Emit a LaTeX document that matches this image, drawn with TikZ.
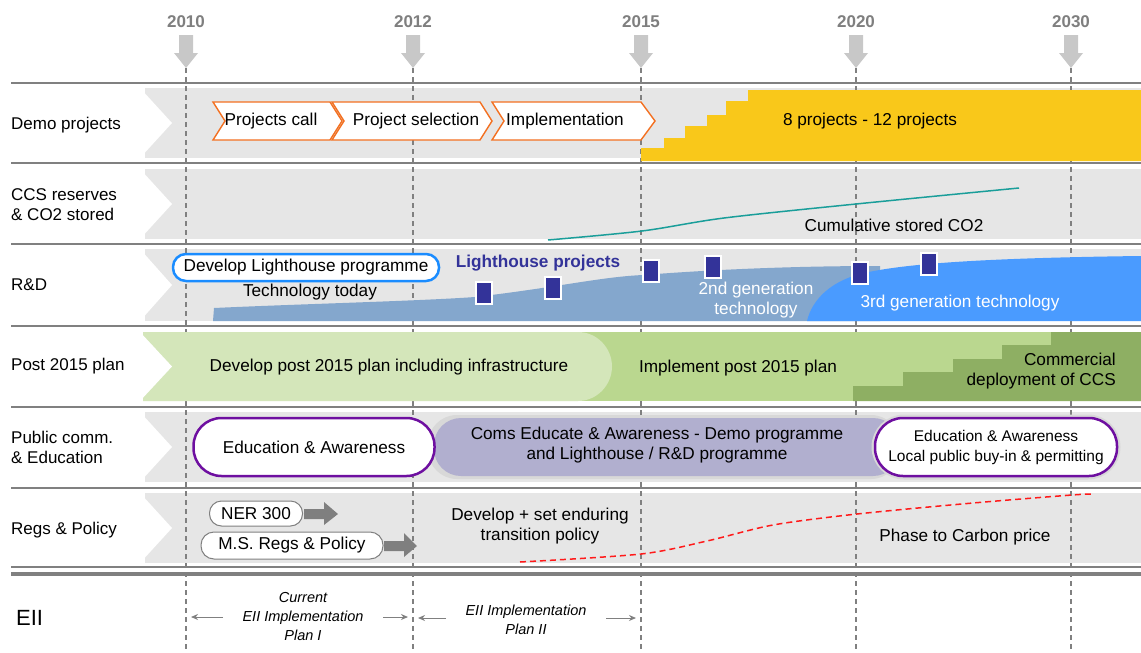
\documentclass[tikz,border=0pt]{standalone}
\usepackage{fontspec}
\setmainfont{Liberation Sans}
\usetikzlibrary{arrows.meta}
\definecolor{bandgray}{HTML}{E6E6E6}
\definecolor{sepgray}{HTML}{808080}
\definecolor{yeargray}{HTML}{7F7F7F}
\definecolor{arrowlight}{HTML}{C8C8C8}
\definecolor{chevorange}{HTML}{F37021}
\definecolor{gold}{HTML}{F9C81A}
\definecolor{cteal}{HTML}{1A9E9A}
\definecolor{bluegray}{HTML}{84A7CD}
\definecolor{brightblue}{HTML}{4A9BFF}
\definecolor{navy}{HTML}{333399}
\definecolor{pillblue}{HTML}{1A8CFF}
\definecolor{lightgreen}{HTML}{D4E6BA}
\definecolor{midgreen}{HTML}{BAD78F}
\definecolor{darkgreen}{HTML}{8EAF63}
\definecolor{lavender}{HTML}{B1AFCF}
\definecolor{purp}{HTML}{6E0FA0}
\definecolor{halo}{HTML}{D8D8D8}
\definecolor{redline}{HTML}{FF1A1A}
\definecolor{blockgray}{HTML}{7F7F7F}
\begin{document}
\begin{tikzpicture}[x=1pt,y=-1pt,
  rowlabel/.style={anchor=west,font=\fontsize{17}{20}\selectfont,align=left,inner sep=0pt},
  txt/.style={font=\fontsize{17.2}{20}\selectfont,align=center,inner sep=0pt},
  smalltxt/.style={font=\fontsize{15.5}{20}\selectfont,align=center,inner sep=0pt},
  eiitxt/.style={font=\itshape\fontsize{14.5}{19}\selectfont,align=center,inner sep=0pt},
  yearlbl/.style={font=\bfseries\fontsize{17}{19}\selectfont,text=yeargray,inner sep=0pt},
  yeararrow/.style={fill=arrowlight},
  dashline/.style={draw=sepgray,line width=1.2pt,dash pattern=on 5pt off 4pt},
  sepline/.style={draw=sepgray,line width=2.5pt},
  chevbox/.style={draw=chevorange,line width=1.4pt,fill=white,line join=miter},
  square/.style={fill=navy,draw=white,line width=1.2pt,minimum width=16pt,minimum height=22pt,inner sep=0pt},
  pillbox/.style={fill=white,rounded corners=#1,inner sep=0pt},
  eiiarrow/.style={draw=sepgray,line width=1pt,-{Stealth[length=7pt,width=6pt]}},
]
\useasboundingbox (0,0) rectangle (1141,653);
\fill[white] (0,0) rectangle (1141,653);

% ---- bands ----
\foreach \t/\b in {88/158,169/239,249/321,412/482,493/563}{
  \fill[bandgray] (145,\t) rectangle (1141,\b);
}

% ---- dashed year lines ----
\foreach \x in {186,413,641,856,1071}{
  \draw[dashline] (\x,68) -- (\x,653);
}

% post 2015 green band (covers the dashed lines)
\fill[midgreen] (560,332) rectangle (1141,401);
\fill[lightgreen] (143,332) -- (578,332) .. controls (597,332) and (612,348) .. (612,366.5)
   .. controls (612,385) and (597,401) .. (578,401) -- (143,401) -- cycle;
% label chevrons (white notch)
\foreach \t/\b in {88/158,169/239,249/321,332/401,412/482,493/563}{
  \fill[white] (140,\t) -- (172,{(\t+\b)/2}) -- (140,\b) -- cycle;
}

% ---- year arrows and labels ----
\foreach \x/\yr in {186/2010,413/2012,641/2015,856/2020,1071/2030}{
  \fill[yeararrow] (\x-7,35) -- (\x+7,35) -- (\x+7,53) -- (\x+12,53) -- (\x,68) -- (\x-12,53) -- (\x-7,53) -- cycle;
  \node[yearlbl] (y\yr) at (\x,22) {\yr};
}

% ---- separator lines ----
\foreach \y in {83,163,244,326,407,488}{
  \draw[sepline] (11,\y) -- (1141,\y);
}
\draw[draw=sepgray,line width=1.5pt] (11,567) -- (1141,567);
\draw[draw=sepgray,line width=4.5pt] (11,574) -- (1141,574);

% ---- row labels ----
\node[rowlabel] (l1) at (11,125) {Demo projects};
\node[rowlabel] (l2) at (11,205) {CCS reserves\\\& CO2 stored};
\node[rowlabel] (l3) at (11,285) {R\&D};
\node[rowlabel] (l4) at (11,366) {Post 2015 plan};
\node[rowlabel] (l5) at (11,447) {Public comm.\\\& Education};
\node[rowlabel] (l6) at (11,530) {Regs \& Policy};
\node[rowlabel,font=\fontsize{22}{24}\selectfont] (l7) at (16,618) {EII};

% ---- Row 1: demo projects ----
\draw[chevbox] (213,102) -- (330,102) -- (342,121) -- (330,140) -- (213,140) -- (225,121) -- cycle;
\node[txt] (pc) at (271,121) {Projects call};
\draw[chevbox] (332,102) -- (480,102) -- (492,121) -- (480,140) -- (332,140) -- (344,121) -- cycle;
\node[txt] (ps) at (416,121) {Project selection};
\draw[chevbox] (492,102) -- (641,102) -- (655,121) -- (641,140) -- (492,140) -- (504,121) -- cycle;
\node[txt] (im) at (565,121) {Implementation};
\fill[gold] (641,161) -- (641,148) -- (664,148) -- (664,138) -- (685,138) -- (685,126) -- (707,126)
  -- (707,115) -- (726,115) -- (726,101) -- (748,101) -- (748,90) -- (1141,90) -- (1141,161) -- cycle;
\node[txt] (np) at (870,121) {8 projects - 12 projects};

% ---- Row 2: CCS reserves ----
\draw[cteal,line width=1.5pt] plot[smooth] coordinates {(548,240) (642,231) (724,218) (856,204) (1019,188)};
\node[txt] (cum) at (894,225) {Cumulative stored CO2};

% ---- Row 3: R&D ----
\fill[bluegray] (213,321) -- (214,308) .. controls (300,304) and (420,301) .. (475,297)
  .. controls (560,287) and (600,277) .. (643,275) .. controls (720,269) and (800,266) .. (880,266)
  -- (880,321) -- cycle;
\fill[brightblue] (807,321) .. controls (812,300) and (830,282) .. (860,274)
  .. controls (900,264) and (980,258) .. (1141,256) -- (1141,321) -- cycle;
\node[pillbox=13pt,draw=pillblue,line width=2.5pt,minimum width=266pt,minimum height=27pt,txt] (dlh) at (306,267.5) {Develop Lighthouse programme};
\node[txt] (tt) at (310,292) {Technology today};
\node[txt,font=\bfseries\fontsize{17.2}{20}\selectfont,text=navy] (lhp) at (538,263) {Lighthouse projects};
\node[square] (s1) at (484,293) {};
\node[square] (s2) at (553,288) {};
\node[square] (s3) at (651,271) {};
\node[square] (s4) at (713,267) {};
\node[square] (s5) at (860,273) {};
\node[square] (s6) at (929,264) {};
\node[txt,text=white] (g2) at (756,300) {2nd generation\\technology};
\node[txt,text=white] (g3) at (960,303) {3rd generation technology};

% ---- Row 4: post 2015 plan ----
\fill[darkgreen] (853,401) -- (853,386) -- (903,386) -- (903,372) -- (953,372) -- (953,359) -- (1002,359)
  -- (1002,345) -- (1051,345) -- (1051,332) -- (1141,332) -- (1141,401) -- cycle;
\node[txt] (dp) at (389,367) {Develop post 2015 plan including infrastructure};
\node[txt] (ip) at (738,368) {Implement post 2015 plan};
\node[txt,align=right,anchor=east] (cd) at (1116,371) {Commercial\\deployment of CCS};

% ---- Row 5: public comm ----
\fill[halo,rounded corners=29pt] (428,415) rectangle (900,479);
\fill[lavender,rounded corners=27pt] (434,418) rectangle (900,476);
\draw[halo,line width=7pt,rounded corners=29pt] (875,418) rectangle (1117,476);
\node[pillbox=28pt,draw=purp,line width=2.5pt,minimum width=241pt,minimum height=58pt,txt] (ea1) at (314,447) {Education \& Awareness};
\node[txt] (coms) at (657,445) {Coms Educate \& Awareness - Demo programme\\and Lighthouse / R\&D  programme};
\node[pillbox=28pt,draw=purp,line width=2.5pt,minimum width=242pt,minimum height=58pt,smalltxt] (ea2) at (996,447) {Education \& Awareness\\Local public buy-in \& permitting};

% ---- Row 6: regs & policy ----
\node[pillbox=12pt,draw=sepgray,line width=1pt,minimum width=93pt,minimum height=25pt,txt] (ner) at (256,513.5) {NER 300};
\fill[blockgray] (304,509) -- (324,509) -- (324,502) -- (338,514) -- (324,525) -- (324,519) -- (304,519) -- cycle;
\node[pillbox=13pt,draw=sepgray,line width=1pt,minimum width=182pt,minimum height=27pt,txt] (ms) at (292,545.5) {M.S. Regs \& Policy};
\fill[blockgray] (384,541) -- (404,541) -- (404,533) -- (417,546) -- (404,557) -- (404,551) -- (384,551) -- cycle;
\node[txt] (dev) at (540,526) {Develop + set enduring\\transition policy};
\draw[redline,line width=1.5pt,dash pattern=on 6pt off 4pt] plot[smooth] coordinates {(520,562) (641,554) (707,541) (773,525) (857,514) (973,503) (1072,495) (1093,494)};
\node[txt] (ph) at (965,537) {Phase to Carbon price};

% ---- EII row ----
\node[eiitxt] (p1) at (303,617) {Current\\EII Implementation\\Plan I};
\node[eiitxt] (p2) at (526,620) {EII Implementation\\Plan II};
\coordinate (a1s) at (223,617); \coordinate (a1e) at (191,617);
\coordinate (a2s) at (383,617); \coordinate (a2e) at (408,617);
\coordinate (a3s) at (446,618); \coordinate (a3e) at (418,618);
\coordinate (a4s) at (606,618); \coordinate (a4e) at (636,618);
\draw[eiiarrow] (a1s) -- (a1e);
\draw[eiiarrow] (a2s) -- (a2e);
\draw[eiiarrow] (a3s) -- (a3e);
\draw[eiiarrow] (a4s) -- (a4e);
\end{tikzpicture}
\end{document}
